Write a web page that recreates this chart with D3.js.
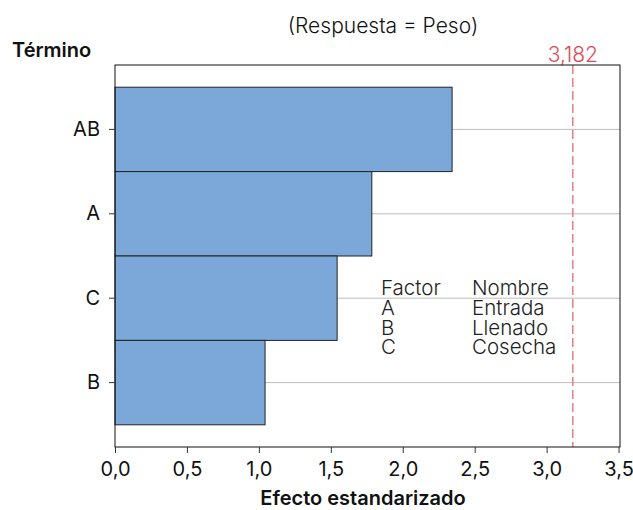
<!DOCTYPE html>
<html>
<head>
<meta charset="utf-8">
<script src="https://cdn.jsdelivr.net/npm/d3@7"></script>
<style>
  body { margin: 0; background: #fff; }
  text { font-family: Inter, "Liberation Sans", Arial, sans-serif; }
</style>
</head>
<body>
<div id="chart"></div>
<script>
// data
const terms = ["AB", "A", "C", "B"];
const effects = [2.343, 1.785, 1.544, 1.043];
const critical = 3.182;
const criticalLabel = "3,182";
const xTicks = [0, 0.5, 1, 1.5, 2, 2.5, 3, 3.5];
const factorCodes = ["A", "B", "C"];
const factorNames = ["Entrada", "Llenado", "Cosecha"];

const width = 633;
const height = 510;
const margin = {top: 65, right: 13, bottom: 63, left: 115};
const font = "Inter, Liberation Sans, Arial, sans-serif";

const fmt = d => d3.format(".1f")(d).replace(".", ",");

const xScale = d3.scaleLinear()
    .domain([0, 3.51])
    .range([margin.left, width - margin.right]);

const yScale = d3.scaleBand()
    .domain(terms)
    .range([margin.top, height - margin.bottom])
    .paddingInner(0)
    .paddingOuter(0.263);

const svg = d3.select("#chart").append("svg")
    .attr("width", width)
    .attr("height", height);

// gridlines behind bars
svg.append("g")
  .selectAll("line")
  .data(terms)
  .join("line")
    .attr("x1", margin.left)
    .attr("x2", width - margin.right)
    .attr("y1", d => yScale(d) + yScale.bandwidth() / 2)
    .attr("y2", d => yScale(d) + yScale.bandwidth() / 2)
    .attr("stroke", "#bdbdbd")
    .attr("stroke-width", 1);

// bars
svg.append("g")
  .selectAll("rect")
  .data(terms.map((t, i) => ({t, v: effects[i]})))
  .join("rect")
    .attr("x", xScale(0))
    .attr("y", d => yScale(d.t))
    .attr("width", d => xScale(d.v) - xScale(0))
    .attr("height", yScale.bandwidth())
    .attr("fill", "#7ba7d9")
    .attr("stroke", "#222")
    .attr("stroke-width", 1);

// reference line
svg.append("line")
    .attr("x1", xScale(critical))
    .attr("x2", xScale(critical))
    .attr("y1", margin.top)
    .attr("y2", height - margin.bottom)
    .attr("stroke", "#e8868e")
    .attr("stroke-width", 1.6)
    .attr("stroke-dasharray", "9,4");

svg.append("text")
    .attr("x", xScale(critical))
    .attr("y", 62)
    .attr("text-anchor", "middle")
    .attr("fill", "#dd4b55")
    .attr("font-size", 21)
    .attr("font-weight", 300)
    .text(criticalLabel);

// frame
svg.append("rect")
    .attr("x", margin.left)
    .attr("y", margin.top)
    .attr("width", width - margin.right - margin.left)
    .attr("height", height - margin.bottom - margin.top)
    .attr("fill", "none")
    .attr("stroke", "#111")
    .attr("stroke-width", 1);

// axes
const xAxis = g => g
    .attr("transform", `translate(0,${height - margin.bottom})`)
    .call(d3.axisBottom(xScale).tickValues(xTicks).tickFormat(fmt).tickSizeOuter(0).tickSize(6).tickPadding(9))
    .call(g => g.select(".domain").remove())
    .call(g => g.selectAll("line").attr("stroke", "#333"))
    .call(g => g.selectAll("text").attr("font-size", 20).attr("fill", "#111").attr("dy", "0.72em")
        .style("font-family", font));

const yAxis = g => g
    .attr("transform", `translate(${margin.left},0)`)
    .call(d3.axisLeft(yScale).tickSizeOuter(0).tickSize(6).tickPadding(9))
    .call(g => g.select(".domain").remove())
    .call(g => g.selectAll("line").attr("stroke", "#333"))
    .call(g => g.selectAll("text").attr("font-size", 20).attr("fill", "#111")
        .style("font-family", font));

svg.append("g").call(xAxis);
svg.append("g").call(yAxis);

// titles
svg.append("text")
    .attr("x", 383)
    .attr("y", 33)
    .attr("text-anchor", "middle")
    .attr("font-size", 21)
    .attr("font-weight", 300)
    .attr("fill", "#111")
    .text("(Respuesta = Peso)");

svg.append("text")
    .attr("x", 12)
    .attr("y", 57)
    .attr("font-size", 20)
    .attr("font-weight", 600)
    .attr("fill", "#111")
    .text("Término");

svg.append("text")
    .attr("x", 363)
    .attr("y", 505)
    .attr("text-anchor", "middle")
    .attr("font-size", 20)
    .attr("font-weight", 600)
    .attr("fill", "#111")
    .text("Efecto estandarizado");

// factor legend
const leg = svg.append("g").attr("fill", "#222").attr("font-size", 20.5).attr("font-weight", 300);
leg.append("text").attr("x", 381).attr("y", 295).text("Factor");
leg.append("text").attr("x", 472).attr("y", 295).text("Nombre");
factorCodes.forEach((c, i) => {
  leg.append("text").attr("x", 381).attr("y", 315 + i * 19.5).text(c);
  leg.append("text").attr("x", 472).attr("y", 315 + i * 19.5).text(factorNames[i]);
});
</script>
</body>
</html>
